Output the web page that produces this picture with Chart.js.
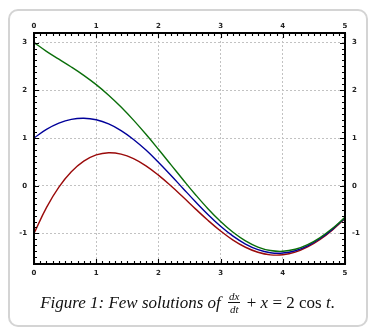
<!DOCTYPE html>
<html>
<head>
<meta charset="utf-8">
<script src="https://cdn.jsdelivr.net/npm/chart.js@4.4.1/dist/chart.umd.min.js"></script>
<style>
  html, body { margin: 0; padding: 0; background: #fff; }
  #wrap { position: relative; width: 375px; height: 335px; overflow: hidden; background: #fff; }
  #box {
    position: absolute; left: 8px; top: 9px; width: 360px; height: 318px;
    box-sizing: border-box; border: 2.5px solid #d4d4d4; border-radius: 10px;
  }
  #plot { position: absolute; left: 0; top: 0; }
  #cap {
    position: absolute; left: 0; top: 291px; width: 375px; text-align: center;
    font-family: "Liberation Serif", "DejaVu Serif", serif; font-size: 17px; line-height: 20px;
    color: #111; white-space: nowrap;
  }
  #cap i { font-style: italic; }
  .frac {
    display: inline-block; vertical-align: -0.45em; text-align: center;
    font-size: 11px; line-height: 10px; font-style: italic; margin: 0 2px 0 3px;
  }
  .frac .num { display: block; border-bottom: 0.8px solid #111; padding: 0 1px 1px; }
  .frac .den { display: block; padding-top: 1px; }
</style>
</head>
<body>
<div id="wrap">
  <div id="box"></div>
  <canvas id="plot" width="375" height="335"></canvas>
  <div id="cap"><i>Figure 1: Few solutions of</i> <span class="frac"><span class="num">dx</span><span class="den">dt</span></span> + <i>x</i> = 2 cos <i>t</i>.</div>
</div>
<script>
// time samples
const tValues = [0, 0.2, 0.4, 0.6, 0.8, 1.0, 1.2, 1.4, 1.6, 1.8, 2.0, 2.2, 2.4,
                 2.6, 2.8, 3.0, 3.2, 3.4, 3.6, 3.8, 4.0, 4.2, 4.4, 4.6, 4.8, 5.0];

// solution starting at x(0) = -1
const redSeries = [-1.000, -0.459, -0.030, 0.292, 0.515, 0.646, 0.692, 0.662, 0.567,
                   0.416, 0.222, -0.002, -0.243, -0.490, -0.729, -0.948, -1.138,
                   -1.289, -1.394, -1.448, -1.447, -1.392, -1.283, -1.126, -0.925, -0.689];

// solution starting at x(0) = 1
const blueSeries = [1.000, 1.179, 1.310, 1.390, 1.414, 1.382, 1.294, 1.155, 0.970,
                    0.747, 0.493, 0.220, -0.062, -0.341, -0.607, -0.849, -1.057,
                    -1.222, -1.339, -1.403, -1.410, -1.362, -1.259, -1.106, -0.909, -0.675];

// solution starting at x(0) = 3
const greenSeries = [3.000, 2.816, 2.651, 2.488, 2.313, 2.118, 1.897, 1.649, 1.374,
                     1.077, 0.764, 0.442, 0.120, -0.193, -0.486, -0.749, -0.975,
                     -1.156, -1.285, -1.358, -1.374, -1.332, -1.234, -1.086, -0.892, -0.662];

const xTicks = [0, 1, 2, 3, 4, 5];
const xTickLabels = ['0', '1', '2', '3', '4', '5'];
const yTicks = [-1, 0, 1, 2, 3];
const yTickLabels = ['-1', '0', '1', '2', '3'];

const xRange = [0, 5];
const yRange = [-1.64, 3.2];
const xMinorPerUnit = 10;
const yMinorPerUnit = 8;

const toPoints = ys => tValues.map((t, i) => ({ x: t, y: ys[i] }));

const tickFont = { family: 'DejaVu Sans', size: 7, weight: 'bold' };
const tickColor = '#222';

// Box frame with inward major/minor ticks on all four sides
const framePlugin = {
  id: 'frameTicks',
  afterDatasetsDraw(chart) {
    const { ctx, chartArea: a, scales } = chart;
    const xs = scales.x, ys = scales.y;
    ctx.save();
    ctx.strokeStyle = '#000';
    ctx.lineWidth = 1.1;
    ctx.beginPath();
    for (let i = Math.round(xRange[0] * xMinorPerUnit); i <= Math.round(xRange[1] * xMinorPerUnit); i++) {
      const v = i / xMinorPerUnit;
      const px = Math.round(xs.getPixelForValue(v)) + 0.5;
      const len = (i % xMinorPerUnit === 0) ? 5 : 3;
      ctx.moveTo(px, a.bottom); ctx.lineTo(px, a.bottom - len);
      ctx.moveTo(px, a.top); ctx.lineTo(px, a.top + len);
    }
    for (let i = Math.ceil(yRange[0] * yMinorPerUnit); i <= Math.floor(yRange[1] * yMinorPerUnit); i++) {
      const v = i / yMinorPerUnit;
      const py = Math.round(ys.getPixelForValue(v)) + 0.5;
      const len = (i % yMinorPerUnit === 0) ? 5 : 3;
      ctx.moveTo(a.left, py); ctx.lineTo(a.left + len, py);
      ctx.moveTo(a.right, py); ctx.lineTo(a.right - len, py);
    }
    ctx.stroke();
    ctx.lineWidth = 2;
    ctx.strokeRect(a.left, a.top, a.right - a.left, a.bottom - a.top);
    ctx.restore();
  }
};

const setTicks = vals => s => { s.ticks = vals.map(v => ({ value: v })); };

new Chart(document.getElementById('plot'), {
  type: 'line',
  data: {
    datasets: [
      { data: toPoints(greenSeries), borderColor: '#0a6e0a' },
      { data: toPoints(blueSeries), borderColor: '#00009a' },
      { data: toPoints(redSeries), borderColor: '#9a0a0a' }
    ]
  },
  options: {
    responsive: false,
    devicePixelRatio: 1,
    animation: false,
    layout: { padding: { left: 8, right: 8, top: 8, bottom: 55 } },
    elements: {
      line: { borderWidth: 1.4, tension: 0.4, fill: false },
      point: { radius: 0 }
    },
    plugins: { legend: { display: false }, tooltip: { enabled: false } },
    scales: {
      x: {
        type: 'linear', position: 'bottom', min: xRange[0], max: xRange[1],
        afterBuildTicks: setTicks(xTicks),
        afterFit: s => { s.height = 16; },
        ticks: { callback: (v, i) => xTickLabels[i], padding: 5, font: tickFont, color: tickColor, maxRotation: 0, autoSkip: false },
        grid: { color: '#c2c2c2', lineWidth: 1, drawTicks: false },
        border: { display: false, dash: [2, 2] }
      },
      x2: {
        type: 'linear', position: 'top', min: xRange[0], max: xRange[1],
        afterBuildTicks: setTicks(xTicks),
        afterFit: s => { s.height = 25; },
        ticks: { callback: (v, i) => xTickLabels[i], padding: 3, font: tickFont, color: tickColor, maxRotation: 0, autoSkip: false },
        grid: { display: false, drawTicks: false },
        border: { display: false }
      },
      y: {
        type: 'linear', position: 'left', min: yRange[0], max: yRange[1],
        afterBuildTicks: setTicks(yTicks),
        afterFit: s => { s.width = 26; },
        ticks: { callback: (v, i) => yTickLabels[i], padding: 7, font: tickFont, color: tickColor, autoSkip: false },
        grid: { color: '#c2c2c2', lineWidth: 1, drawTicks: false },
        border: { display: false, dash: [2, 2] }
      },
      y2: {
        type: 'linear', position: 'right', min: yRange[0], max: yRange[1],
        afterBuildTicks: setTicks(yTicks),
        afterFit: s => { s.width = 22; },
        ticks: { callback: (v, i) => yTickLabels[i], padding: 7, font: tickFont, color: tickColor, autoSkip: false },
        grid: { display: false, drawTicks: false },
        border: { display: false }
      }
    }
  },
  plugins: [framePlugin]
});
</script>
</body>
</html>
